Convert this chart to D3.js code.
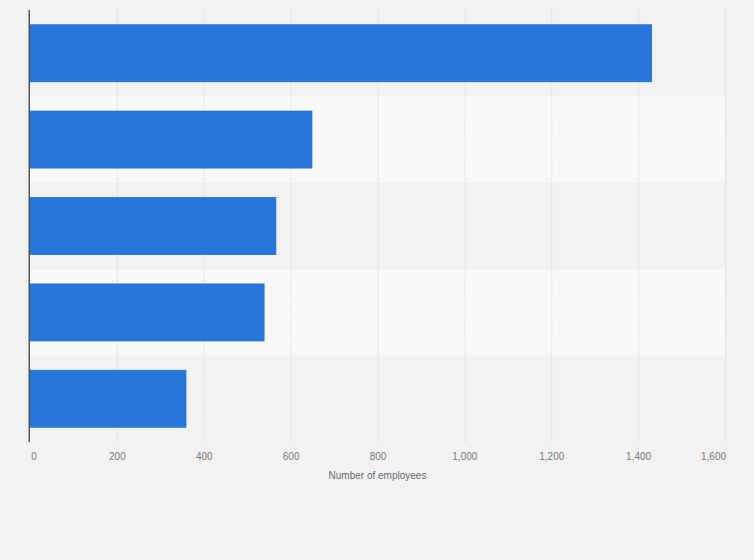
<!DOCTYPE html>
<html>
<head>
<meta charset="utf-8">
<script src="https://cdn.jsdelivr.net/npm/d3@7"></script>
<style>
  html, body { margin: 0; padding: 0; background: #f2f2f2; }
  svg { display: block; font-family: "Liberation Sans", Arial, sans-serif; }
</style>
</head>
<body>
<div id="chart"></div>
<script>
// categories are not labelled in the source picture
const categories = ['Category 1', 'Category 2', 'Category 3', 'Category 4', 'Category 5'];
const employees = [1432, 650, 567, 540, 360];
const xTicks = [0, 200, 400, 600, 800, 1000, 1200, 1400, 1600];
const xTitle = 'Number of employees';

const width = 754;
const height = 560;
const margin = {top: 10, right: 29, bottom: 118, left: 30};

const svg = d3.select('#chart')
  .append('svg')
  .attr('width', width)
  .attr('height', height);

svg.append('rect')
  .attr('width', width)
  .attr('height', height)
  .attr('fill', '#f2f2f2');

const x = d3.scaleLinear()
  .domain([0, 1600])
  .range([margin.left, width - margin.right]);

const y = d3.scaleBand()
  .domain(categories)
  .range([margin.top, height - margin.bottom])
  .paddingInner(0.33)
  .paddingOuter(0.165);

// alternating band backgrounds
const step = y.step();
svg.append('g')
  .selectAll('rect')
  .data(categories)
  .enter()
  .append('rect')
  .attr('x', margin.left)
  .attr('y', d => y(d) - step * 0.165)
  .attr('width', x(1600) - margin.left)
  .attr('height', step)
  .attr('fill', (d, i) => i % 2 === 0 ? '#f2f2f2' : '#f9f9f9');

// grid lines
svg.append('g')
  .selectAll('line')
  .data(xTicks.slice(1))
  .enter()
  .append('line')
  .attr('x1', d => x(d) + 0.5)
  .attr('x2', d => x(d) + 0.5)
  .attr('y1', margin.top)
  .attr('y2', height - margin.bottom)
  .attr('stroke', '#d0d0d0')
  .attr('stroke-width', 1)
  .attr('stroke-dasharray', '1,1.5');

// bars
svg.append('g')
  .selectAll('rect')
  .data(employees)
  .enter()
  .append('rect')
  .attr('x', x(0))
  .attr('y', (d, i) => y(categories[i]))
  .attr('width', d => x(d) - x(0))
  .attr('height', y.bandwidth())
  .attr('fill', '#2677d9');

// left axis line
svg.append('line')
  .attr('x1', x(0) - 0.75)
  .attr('x2', x(0) - 0.75)
  .attr('y1', margin.top)
  .attr('y2', height - margin.bottom)
  .attr('stroke', '#555')
  .attr('stroke-width', 1.5);

// x tick labels
const xAxis = svg.append('g')
  .attr('transform', 'translate(0,' + (height - margin.bottom) + ')')
  .call(d3.axisBottom(x).tickValues(xTicks).tickFormat(d3.format(',')).tickSize(0).tickPadding(11));

xAxis.select('.domain').remove();
xAxis.selectAll('text')
  .attr('fill', '#7a7a7a')
  .attr('font-size', '10px')
  .attr('font-family', '"Liberation Sans", Arial, sans-serif')
  .attr('dx', d => d === 0 ? 3.5 : (d === 1600 ? -12 : 0));

svg.append('text')
  .attr('x', (x(0) + x(1600)) / 2)
  .attr('y', height - margin.bottom + 37)
  .attr('text-anchor', 'middle')
  .attr('fill', '#6a6a6a')
  .attr('font-size', '10px')
  .text(xTitle);
</script>
</body>
</html>
